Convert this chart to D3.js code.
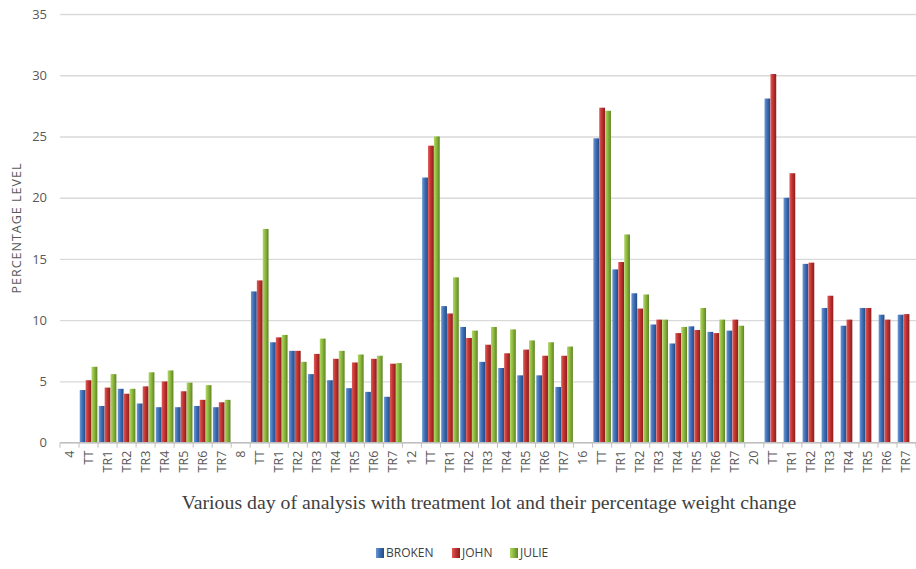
<!DOCTYPE html>
<html>
<head>
<meta charset="utf-8">
<script src="https://cdn.jsdelivr.net/npm/d3@7"></script>
<style>
  body { margin: 0; background: #fff; }
  svg { display: block; }
</style>
</head>
<body>
<svg id="chart" width="916" height="569"></svg>
<script>
// x categories: day marker followed by its treatment lots
const categories = [
  "4", "TT", "TR1", "TR2", "TR3", "TR4", "TR5", "TR6", "TR7",
  "8", "TT", "TR1", "TR2", "TR3", "TR4", "TR5", "TR6", "TR7",
  "12", "TT", "TR1", "TR2", "TR3", "TR4", "TR5", "TR6", "TR7",
  "16", "TT", "TR1", "TR2", "TR3", "TR4", "TR5", "TR6", "TR7",
  "20", "TT", "TR1", "TR2", "TR3", "TR4", "TR5", "TR6", "TR7"
];
const seriesNames = ["BROKEN", "JOHN", "JULIE"];
const broken = [
  null, 4.3, 3.0, 4.4, 3.2, 2.9, 2.9, 3.0, 2.9,
  null, 12.35, 8.2, 7.5, 5.6, 5.1, 4.45, 4.15, 3.75,
  null, 21.65, 11.15, 9.45, 6.6, 6.1, 5.5, 5.5, 4.55,
  null, 24.85, 14.15, 12.2, 9.65, 8.1, 9.5, 9.05, 9.15,
  null, 28.1, 20.0, 14.6, 11.0, 9.55, 11.0, 10.45, 10.45
];
const john = [
  null, 5.1, 4.5, 4.0, 4.6, 5.0, 4.2, 3.5, 3.3,
  null, 13.25, 8.6, 7.5, 7.25, 6.85, 6.55, 6.85, 6.45,
  null, 24.25, 10.55, 8.55, 8.0, 7.3, 7.6, 7.1, 7.1,
  null, 27.35, 14.75, 10.95, 10.05, 8.95, 9.2, 8.95, 10.05,
  null, 30.1, 22.0, 14.7, 12.0, 10.05, 11.0, 10.05, 10.5
];
const julie = [
  null, 6.2, 5.6, 4.4, 5.75, 5.9, 4.9, 4.7, 3.5,
  null, 17.45, 8.8, 6.6, 8.5, 7.5, 7.2, 7.1, 6.5,
  null, 25.0, 13.5, 9.15, 9.45, 9.25, 8.35, 8.2, 7.85,
  null, 27.1, 17.0, 12.1, 10.05, 9.45, 11.0, 10.05, 9.55,
  null, null, null, null, null, null, null, null, null
];
const yTicks = [0, 5, 10, 15, 20, 25, 30, 35];

const colors = ["#3f6fb6", "#c13432", "#8db83d"];
const dark = ["#234a86", "#8a1d1c", "#5e8424"];
const light = ["#6d97d4", "#e05a57", "#b2d767"];

const svg = d3.select("#chart");
const margin = {left: 60, right: 0, top: 14, bottom: 127};
const W = 916, H = 569;
const plotBottom = H - margin.bottom;

const x = d3.scaleBand()
    .domain(d3.range(categories.length))
    .range([margin.left, W - margin.right])
    .paddingInner(0).paddingOuter(0);

const xs = d3.scaleBand()
    .domain(d3.range(seriesNames.length))
    .range([0, x.bandwidth()])
    .paddingOuter(0.12).paddingInner(0.02);

const y = d3.scaleLinear().domain([0, 35]).range([plotBottom + 0.7, margin.top]);

// bar shading like the original's cylinder-ish fill
const defs = svg.append("defs");
colors.forEach((c, i) => {
    let g = defs.append("linearGradient").attr("id", "grad" + i)
        .attr("x1", "0").attr("x2", "1").attr("y1", "0").attr("y2", "0");
    g.append("stop").attr("offset", "0%").attr("stop-color", light[i]);
    g.append("stop").attr("offset", "45%").attr("stop-color", c);
    g.append("stop").attr("offset", "100%").attr("stop-color", dark[i]);
});

// gridlines + y labels
svg.append("g")
    .attr("transform", `translate(${margin.left},0)`)
    .call(d3.axisLeft(y).tickValues(yTicks).tickSize(-(W - margin.left)).tickPadding(13))
    .call(g => g.select(".domain").remove())
    .call(g => g.selectAll(".tick line").attr("stroke", "#d9d9d9").attr("stroke-width", 1.3))
    .call(g => g.selectAll(".tick text")
        .attr("fill", "#595959").attr("font-size", 13)
        .attr("font-family", "'Open Sans', 'DejaVu Sans', sans-serif"));

// bars
const seriesData = [broken, john, julie];
seriesData.forEach((vals, s) => {
    svg.append("g").selectAll("rect")
        .data(vals.map((v, i) => ({i, v})).filter(d => d.v != null))
        .join("rect")
        .attr("x", d => x(d.i) + xs(s))
        .attr("width", xs.bandwidth())
        .attr("y", d => y(d.v))
        .attr("height", d => y(0) - y(d.v))
        .attr("fill", `url(#grad${s})`);
});

// category axis
const xAxis = svg.append("g").attr("transform", `translate(0,${y(0)})`);
xAxis.append("line")
    .attr("x1", margin.left).attr("x2", W)
    .attr("stroke", "#bfbfbf").attr("stroke-width", 1.3);
xAxis.selectAll("line.tk")
    .data(d3.range(categories.length + 1))
    .join("line").attr("class", "tk")
    .attr("x1", i => x.step() * i + margin.left)
    .attr("x2", i => x.step() * i + margin.left)
    .attr("y1", 0).attr("y2", 5)
    .attr("stroke", "#bfbfbf");
xAxis.selectAll("text")
    .data(categories)
    .join("text")
    .attr("transform", (d, i) => `translate(${x(i) + x.bandwidth() / 2 + 4},8) rotate(-90)`)
    .attr("text-anchor", "end")
    .attr("fill", "#595959")
    .attr("font-size", 12.5)
    .attr("font-family", "'Open Sans', 'DejaVu Sans', sans-serif")
    .text(d => d);

// axis titles
svg.append("text")
    .attr("transform", `translate(21,228) rotate(-90)`)
    .attr("text-anchor", "middle")
    .attr("fill", "#595959")
    .attr("font-size", 12.5)
    .attr("letter-spacing", 1)
    .attr("font-family", "'Open Sans', 'DejaVu Sans', sans-serif")
    .text("PERCENTAGE LEVEL");

svg.append("text")
    .attr("x", 489).attr("y", 509)
    .attr("text-anchor", "middle")
    .attr("fill", "#404040")
    .attr("font-size", 19.8)
    .attr("font-family", "'Liberation Serif', 'DejaVu Serif', serif")
    .text("Various day of analysis with treatment lot and their percentage weight change");

// legend
const legend = svg.append("g").attr("transform", "translate(376,557)");
const legX = [0, 76, 134];
seriesNames.forEach((name, i) => {
    let g = legend.append("g").attr("transform", `translate(${legX[i]},0)`);
    g.append("rect").attr("x", 0).attr("y", -9).attr("width", 8).attr("height", 10)
        .attr("fill", `url(#grad${i})`);
    g.append("text").attr("x", 10).attr("y", 0)
        .attr("fill", "#404040")
        .attr("font-size", 12)
        .attr("font-family", "'Open Sans', 'DejaVu Sans', sans-serif")
        .text(name);
});
</script>
</body>
</html>
